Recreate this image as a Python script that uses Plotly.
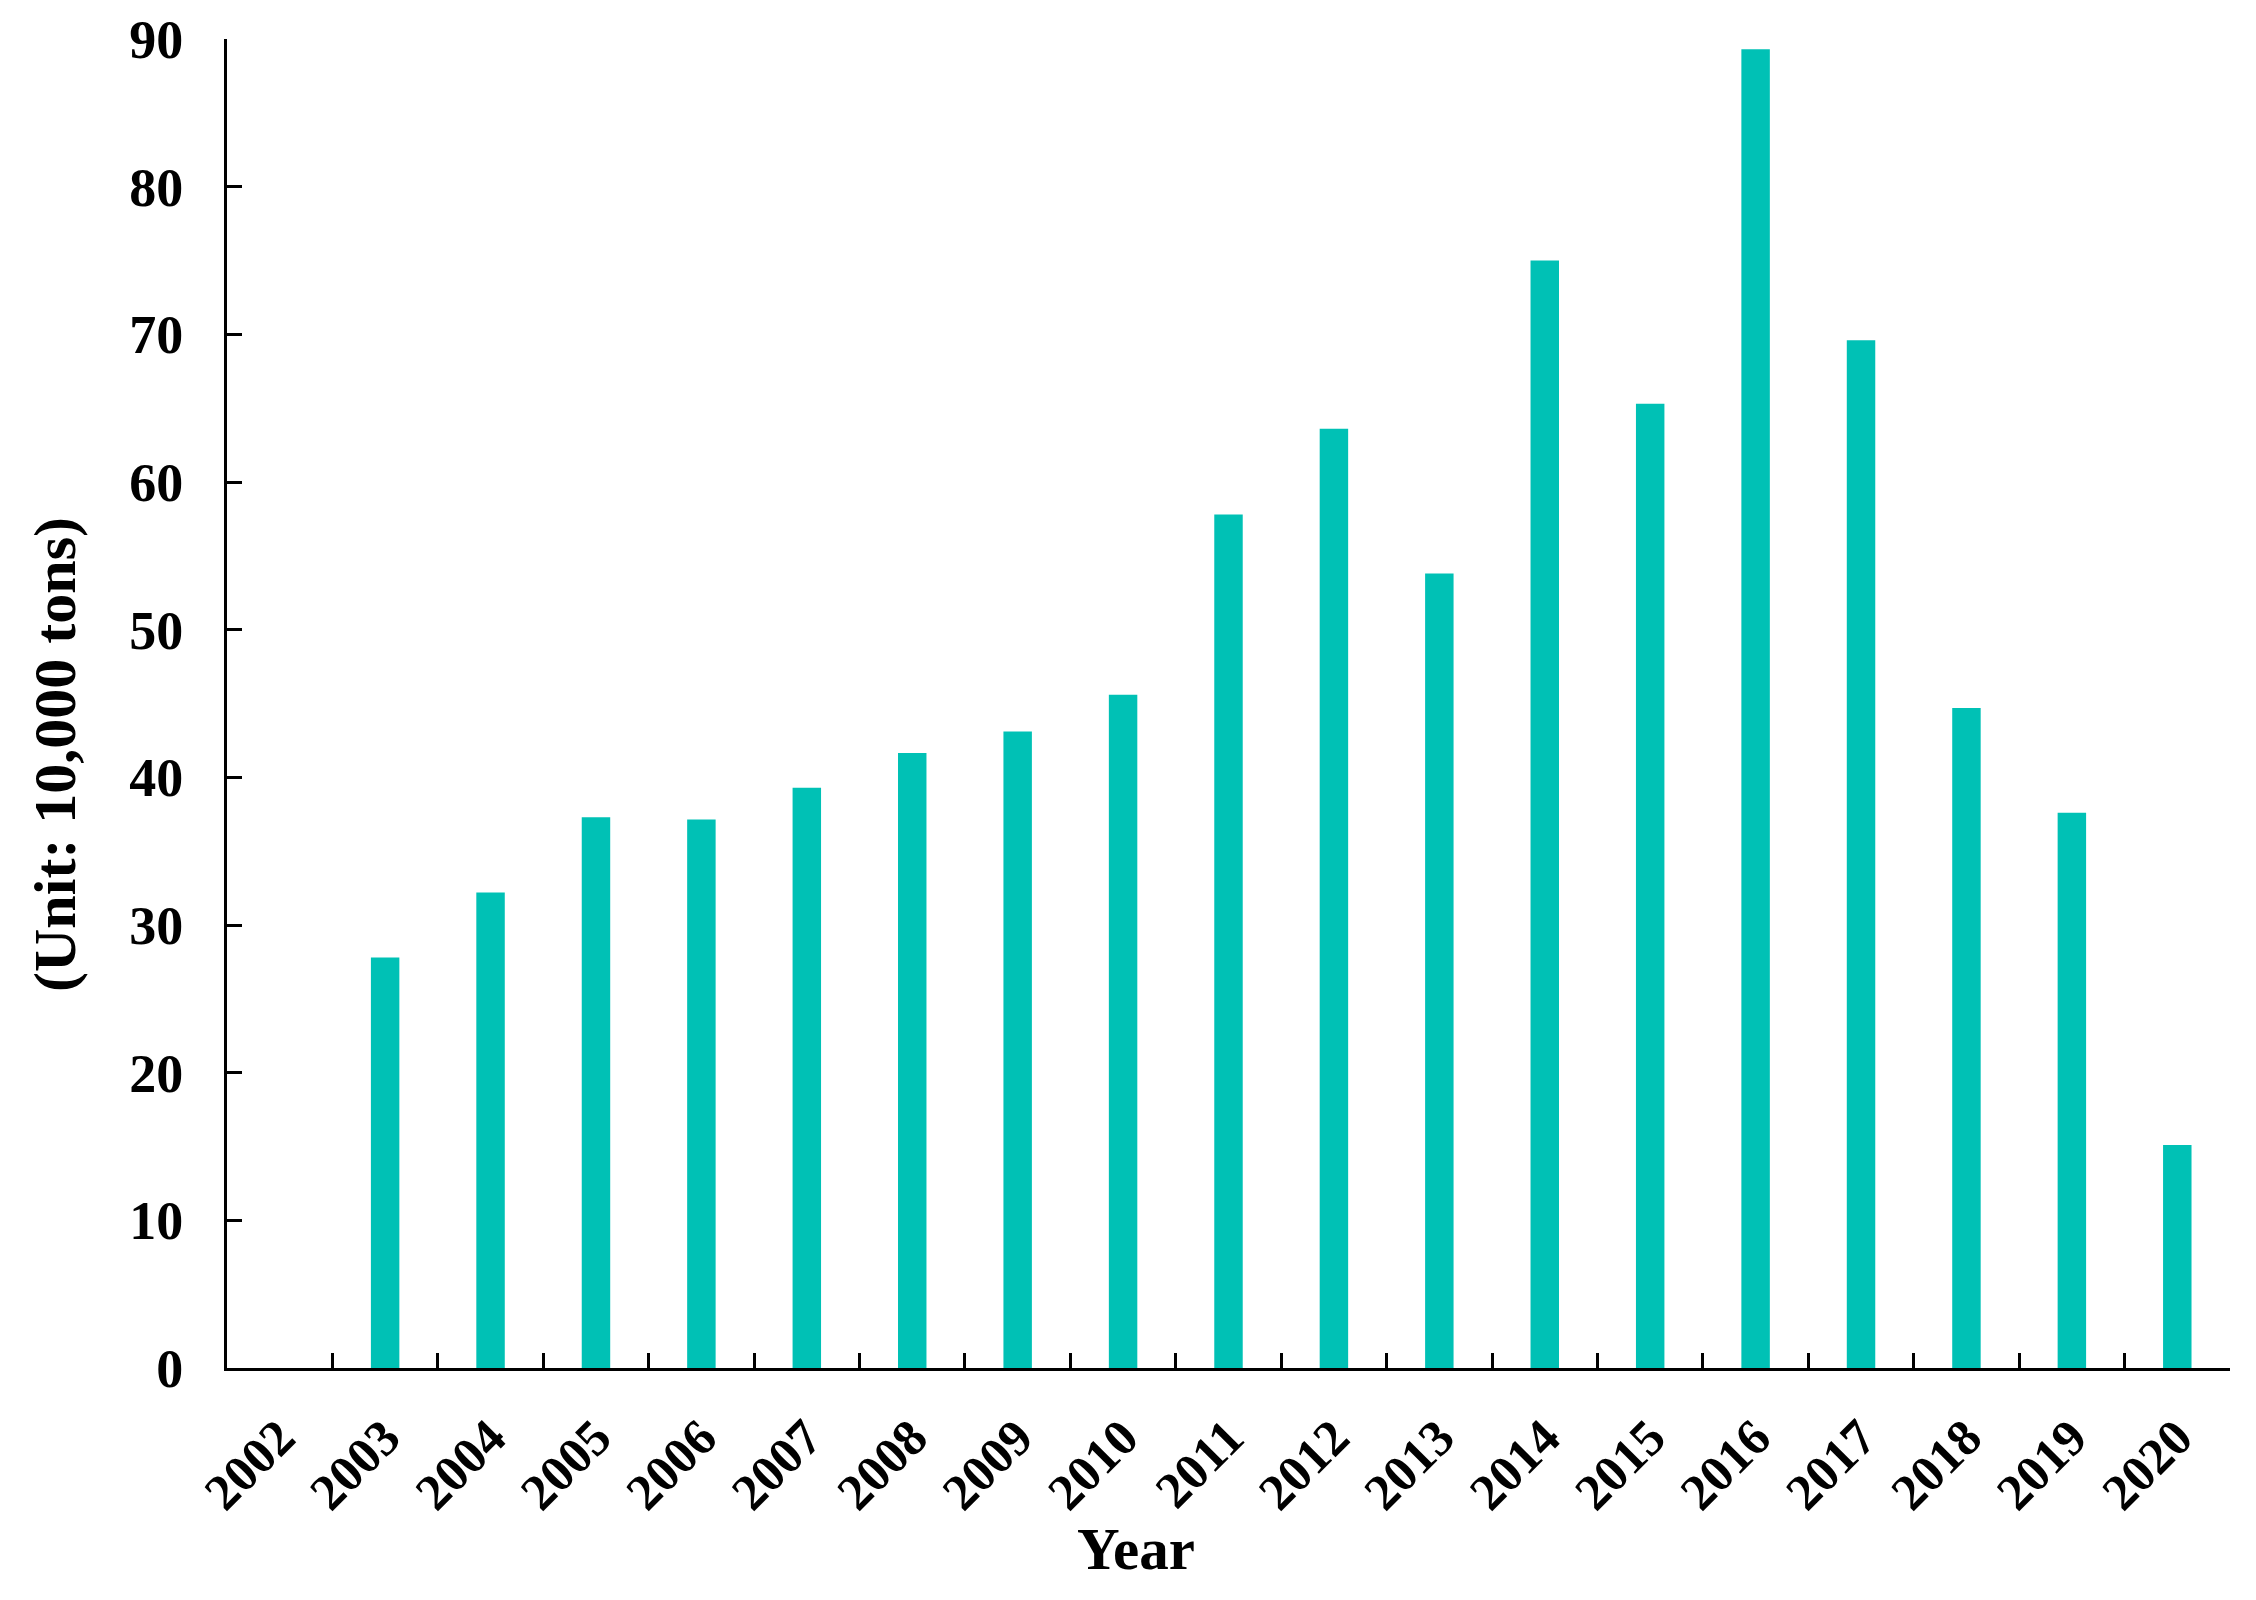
import plotly.graph_objects as go

years = [str(y) for y in range(2002, 2021)]
values = [None, 27.8, 32.2, 37.3, 37.15, 39.3, 41.65, 43.1, 45.6, 57.8, 63.6, 53.8,
          75.0, 65.3, 89.3, 69.6, 44.7, 37.6, 15.1]
y_ticks = [0, 10, 20, 30, 40, 50, 60, 70, 80, 90]

FONT = "Liberation Serif"
W, H = 2248, 1592
L, R, T, B = 219, 26, 31, 232

fig = go.Figure()
fig.add_trace(go.Bar(x=years, y=values, marker=dict(color="#00C1B5", line=dict(width=0)),
                     width=0.27))

fig.update_layout(
    width=W, height=H,
    margin=dict(l=L, r=R, t=T, b=B, autoexpand=False),
    plot_bgcolor="white", paper_bgcolor="white",
    showlegend=False,
    font=dict(family=FONT, color="black", size=50, weight="bold"),
)
fig.update_xaxes(
    type="category", range=[-0.5, 18.5],
    tickson="boundaries", ticks="inside", ticklen=15, tickwidth=3, tickcolor="black",
    showline=True, linecolor="black", linewidth=3, showgrid=False, zeroline=False,
    tickangle=-45, tickfont=dict(family=FONT, size=51, weight="bold"),
    ticklabelstandoff=16, ticklabeloverflow="allow",
)
fig.update_yaxes(
    range=[0, 90], tickvals=y_ticks, ticks="inside", ticklen=15, tickwidth=3,
    tickcolor="black", showline=True, linecolor="black", linewidth=3,
    showgrid=False, zeroline=False,
    tickfont=dict(family=FONT, size=54, weight="bold"), ticklabelstandoff=30,
    ticklabeloverflow="allow",
)
fig.add_annotation(text="(Unit: 10,000 tons)", xref="paper", yref="paper",
                   x=-0.0859, y=0.462, textangle=-90, showarrow=False,
                   xanchor="center", yanchor="middle",
                   font=dict(family=FONT, size=60, weight="bold"))
fig.add_annotation(text="Year", xref="paper", yref="paper",
                   x=0.454, y=-0.136, showarrow=False,
                   xanchor="center", yanchor="middle",
                   font=dict(family=FONT, size=59, weight="bold"))

fig.write_html("out.html")
